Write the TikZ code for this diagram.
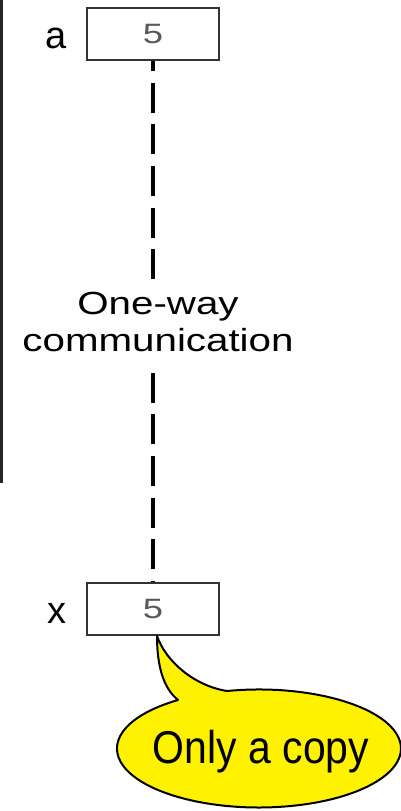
\documentclass[tikz,border=0pt]{standalone}
\usepackage{fontspec}
\setmainfont{Liberation Sans}
\begin{document}
\begin{tikzpicture}[x=1pt,y=-1pt,
  valbox/.style={draw=black!80, line width=1.8pt, fill=white,
    minimum width=132pt, minimum height=52pt, inner sep=0pt,
    text=black!65, font=\fontsize{28}{30}\selectfont},
  varname/.style={anchor=base, inner sep=0pt, font=\fontsize{38}{40}\selectfont},
  msgline/.style={line width=4pt, dash pattern=on 30pt off 11.7pt},
  msgtext/.style={align=center, inner xsep=4pt, inner ysep=12pt,
    font=\fontsize{32}{37}\selectfont},
  bubble/.style={fill=yellow, draw=black, line width=2pt, line join=round},
  rail/.style={line width=3pt, draw=black!85}]
\useasboundingbox (0,0) rectangle (401,811);

% left margin rule
\coordinate (railtop) at (1.5,0);
\coordinate (railbot) at (1.5,483);
\draw[rail] (railtop) -- (railbot);

% the two variables
\node[valbox] (boxa) at (153,34) {\scalebox{1.3}[1]{5}};
\node[valbox] (boxx) at (153,609) {\scalebox{1.3}[1]{5}};
\node[varname] (namea) at (56,48) {a};
\node[varname] (namex) at (57,623) {x};

% one-way link from a to x, broken by its label
\node[msgtext] (msg) at (158,322)
  {\scalebox{1.26}[1]{One-way}\\\scalebox{1.26}[1]{communication}};
\draw[msgline, dash phase=20pt] (boxa.south) -- (boxa.south |- msg.north);
\draw[msgline, dash phase=33.2pt] (boxx.north |- msg.south) -- (boxx.north);

% speech bubble hanging from x
\coordinate (tip) at ([xshift=4pt]boxx.south);
\filldraw[bubble] (178,700) .. controls (163,688) and (157,665) .. (tip)
  .. controls (166,662) and (195,686) .. (227,691)
  arc[start angle=257, end angle=595, x radius=142, y radius=59] -- cycle;
\node[anchor=base, inner sep=0pt, font=\fontsize{46}{48}\selectfont] (note)
  at (261,763) {\scalebox{0.89}[1]{Only a copy}};
\end{tikzpicture}
\end{document}
